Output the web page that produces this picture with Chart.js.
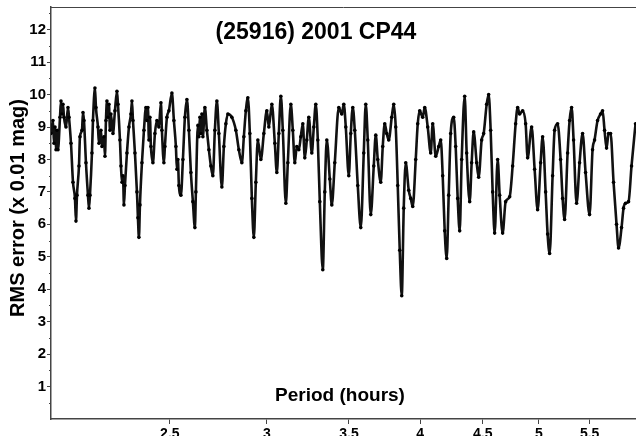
<!DOCTYPE html>
<html>
<head>
<meta charset="utf-8">
<title>(25916) 2001 CP44</title>
<script src="https://cdn.jsdelivr.net/npm/chart.js@4.4.1/dist/chart.umd.min.js"></script>
<style>
  html, body { margin: 0; padding: 0; background: #fff; overflow: hidden; }
  #wrap { width: 636px; height: 436px; overflow: hidden; }
</style>
</head>
<body>
<div id="wrap"><canvas id="chart" width="636" height="450"></canvas></div>
<script>
/* ===== data ===== */
const TITLE = '(25916) 2001 CP44';
const X_TITLE = 'Period (hours)';
const Y_TITLE = 'RMS error (x 0.01 mag)';

const periodTicks = [2.5, 3, 3.5, 4, 4.5, 5, 5.5];
const rmsTicks = [1, 2, 3, 4, 5, 6, 7, 8, 9, 10, 11, 12];

// period (hours)
const periods = [
  2.000, 2.0075, 2.0113, 2.0151, 2.0189, 2.0226, 2.0264, 2.0341, 2.0379, 2.0417,
  2.0455, 2.0494, 2.0571, 2.0648, 2.0687, 2.0765, 2.0843, 2.0921, 2.0960, 2.1000,
  2.1079, 2.1118, 2.1198, 2.1238, 2.1278, 2.1357, 2.1438, 2.1478, 2.1518, 2.1599,
  2.1640, 2.1721, 2.1762, 2.1844, 2.1885, 2.1967, 2.2009, 2.2091, 2.2133, 2.2174,
  2.2216, 2.2258, 2.2300, 2.2342, 2.2384, 2.2468, 2.2552, 2.2637, 2.2680, 2.2765,
  2.2808, 2.2851, 2.2894, 2.2937, 2.2980, 2.3066, 2.3153, 2.3240, 2.3284, 2.3328,
  2.3415, 2.3503, 2.3547, 2.3591, 2.3636, 2.3725, 2.3814, 2.3903, 2.3948,
  2.3993, 2.4038, 2.4083, 2.4128, 2.4219, 2.4310, 2.4401, 2.4493, 2.4585, 2.4631,
  2.4724, 2.4770, 2.4864, 2.4957, 2.5098, 2.5192, 2.5287, 2.5335, 2.5382, 2.5430,
  2.5526, 2.5622, 2.5718, 2.5815, 2.5912, 2.6009, 2.6107, 2.6205, 2.6254, 2.6353,
  2.6403, 2.6452, 2.6502, 2.6552, 2.6601, 2.6701, 2.6802, 2.6903, 2.7004, 2.7105,
  2.7207, 2.7310, 2.7412, 2.7567, 2.7671, 2.7775, 2.7879, 2.8089, 2.8301, 2.8461,
  2.8622,
  2.8729, 2.8837, 2.8946, 2.9054, 2.9164, 2.9273, 2.9383, 2.9494, 2.9660, 2.9828,
  2.9996, 3.0109, 3.0279, 3.0450, 3.0564, 3.0679, 3.0795, 3.0910, 3.1085, 3.1202,
  3.1378, 3.1496, 3.1614, 3.1733, 3.1853, 3.1972, 3.2093, 3.2213, 3.2334, 3.2456,
  3.2639, 3.2762, 3.2885, 3.3009, 3.3133, 3.3320, 3.3445, 3.3571, 3.3761, 3.3888,
  3.4079, 3.4336,
  3.4530, 3.4660, 3.4790, 3.4987, 3.5118, 3.5250, 3.5383, 3.5582, 3.5783, 3.5985,
  3.6120, 3.6256, 3.6461, 3.6667, 3.6805, 3.6943, 3.7151, 3.7291, 3.7431, 3.7572,
  3.7713, 3.7926, 3.8069, 3.8212, 3.8356, 3.8500, 3.8645, 3.8790, 3.8936, 3.9156,
  3.9303, 3.9451, 3.9674, 3.9823, 3.9972, 4.0198, 4.0349, 4.0577, 4.0806, 4.0959,
  4.1191, 4.1424, 4.1579, 4.1735, 4.1892, 4.2050, 4.2208, 4.2366, 4.2605, 4.2765,
  4.2926, 4.3088, 4.3250, 4.3494, 4.3657, 4.3904, 4.4068, 4.4234, 4.4484, 4.4651,
  4.4903, 4.5072, 4.5327, 4.5497, 4.5668, 4.5840, 4.6012, 4.6272, 4.6446, 4.6708,
  4.6972, 4.7326, 4.7593, 4.7862, 4.8042, 4.8223, 4.8495, 4.8769, 4.8952,
  4.9320, 4.9599, 4.9879, 5.0161, 5.0350, 5.0634, 5.0824, 5.1015, 5.1303, 5.1496,
  5.1787, 5.2079, 5.2275, 5.2471, 5.2767, 5.2965, 5.3164, 5.3364, 5.3665, 5.3968,
  5.4273, 5.4579, 5.4990, 5.5300, 5.5508, 5.5822, 5.6137, 5.6348, 5.6560, 5.6772,
  5.6986, 5.7200, 5.7523, 5.7847, 5.8065, 5.8393, 5.8612, 5.8833, 5.9165, 5.9499,
  5.9947
];

// RMS error (x 0.01 mag)
const rmsError = [
  8.8, 9.2, 8.5, 9.0, 8.3, 8.9, 8.3, 9.3, 9.8, 9.4,
  9.7, 9.3, 9.0, 9.6, 9.3, 8.5, 7.3, 6.8, 6.1, 6.9,
  7.8, 8.7, 8.9, 9.45, 9.2, 7.9, 6.9, 6.5, 6.9, 8.2,
  9.2, 10.2, 9.6, 9.0, 8.5, 8.9, 8.4, 8.7, 8.1, 9.2,
  9.8, 9.3, 9.7, 8.9, 9.4, 8.8, 9.5, 10.1, 9.7, 8.6,
  7.8, 7.3, 7.5, 6.6, 7.2, 8.2, 9.0, 9.4, 9.8, 9.2,
  8.2, 7.0, 6.2, 5.6, 6.6, 7.9, 8.9, 9.6, 9.2,
  9.6, 8.6, 9.3, 8.4, 7.9, 8.8, 9.2, 9.0, 9.75, 8.9,
  7.9, 8.4, 9.3, 9.5, 10.05, 9.2, 8.4, 7.7, 8.0, 7.2,
  6.9, 8.0, 9.3, 9.85, 8.9, 7.6, 6.7, 5.9, 7.0, 9.05,
  8.7, 9.3, 8.8, 9.4, 8.7, 9.6, 8.9, 8.3, 7.8, 7.5,
  8.9, 9.8, 8.8, 7.15, 8.4, 9.1, 9.4, 9.3, 8.9, 8.3,
  7.9,
  8.7, 9.5, 9.9, 8.8, 6.8, 5.6, 7.3, 8.6, 8.0, 8.8,
  9.5, 9.0, 9.7, 8.5, 7.6, 8.8, 9.95, 8.9, 6.65, 7.9,
  9.7, 8.9, 7.9, 8.4, 8.3, 8.7, 9.1, 8.05, 8.6, 9.3,
  8.2, 9.0, 9.7, 8.6, 6.7, 4.6, 7.0, 8.6, 7.4, 6.6,
  7.9, 9.6,
  9.4, 9.7, 9.0, 7.5, 8.8, 9.6, 8.9, 7.2, 5.9, 8.2,
  9.7, 8.6, 6.3, 7.8, 8.75, 8.0, 7.3, 8.4, 9.1, 8.8,
  8.6, 9.3, 9.7, 9.0, 7.2, 5.2, 3.8, 6.5, 7.9, 7.05,
  6.8, 6.55, 8.0, 9.1, 9.5, 9.3, 9.6, 9.0, 8.2, 9.1,
  8.1, 8.4, 8.6, 7.5, 5.8, 4.95, 6.9, 8.8, 9.3, 8.4,
  6.8, 5.8, 8.0, 9.95, 8.2, 6.7, 7.9, 8.85, 7.9, 7.45,
  8.6, 8.8, 9.7, 10.0, 8.9, 7.0, 5.73, 8.0, 6.9, 5.73,
  6.7, 6.85, 7.8, 9.1, 9.6, 9.4, 9.5, 9.1, 8.05,
  9.0, 7.7, 6.45, 7.9, 8.7, 7.0, 5.7, 5.1, 7.5, 8.9,
  9.1, 8.0, 6.8, 6.15, 8.2, 9.2, 9.6, 8.6, 6.65, 7.9,
  8.8, 7.6, 6.3, 8.3, 8.6, 9.2, 9.4, 9.5, 8.9, 8.35,
  8.8, 8.8, 7.3, 6.0, 5.27, 5.9, 6.5, 6.65, 6.7, 7.8,
  9.1
];

/* ===== style ===== */
const FONT = '"Liberation Sans", Arial, sans-serif';
const AXIS_COLOR = '#444';
const PLOT_TOP = 7;
const PLOT_BOTTOM = 419;
const PLOT_LEFT = 51;

/* ===== overlay: titles + top border + minor ticks ===== */
const overlayText = {
  id: 'overlayText',
  afterDraw(chart) {
    const { ctx, chartArea: a, scales } = chart;
    ctx.save();

    // top frame line
    ctx.strokeStyle = AXIS_COLOR;
    ctx.lineWidth = 1;
    ctx.beginPath();
    ctx.moveTo(a.left, a.top + 0.5);
    ctx.lineTo(a.right, a.top + 0.5);
    ctx.stroke();

    // minor ticks on y axis
    const y = scales.y;
    ctx.beginPath();
    for (let v = 0.5; v < 12.7; v += 1) {
      const py = Math.round(y.getPixelForValue(v)) + 0.5;
      ctx.moveTo(a.left - 2, py);
      ctx.lineTo(a.left, py);
    }
    ctx.stroke();

    ctx.fillStyle = '#000';
    ctx.textAlign = 'center';
    ctx.textBaseline = 'middle';

    ctx.font = 'bold 23px ' + FONT;
    ctx.fillText(TITLE, 316, 33);

    ctx.font = 'bold 19px ' + FONT;
    ctx.fillText(X_TITLE, 340, 396);

    ctx.translate(18, 208);
    ctx.rotate(-Math.PI / 2);
    ctx.font = 'bold 20px ' + FONT;
    ctx.fillText(Y_TITLE, 0, 0);

    ctx.restore();
  }
};

/* ===== chart ===== */
const ctx = document.getElementById('chart').getContext('2d');
new Chart(ctx, {
  type: 'line',
  data: {
    datasets: [{
      data: periods.map((p, i) => ({ x: p, y: rmsError[i] })),
      borderColor: '#111',
      borderWidth: 2.6,
      pointRadius: 1.8,
      pointBackgroundColor: '#000',
      pointBorderWidth: 0,
      cubicInterpolationMode: 'monotone',
      fill: false,
    }]
  },
  options: {
    responsive: false,
    animation: false,
    layout: { autoPadding: false, padding: { top: PLOT_TOP, right: 0, left: 0, bottom: 0 } },
    plugins: {
      legend: { display: false },
      tooltip: { enabled: false },
    },
    scales: {
      x: {
        type: 'logarithmic',
        min: 2,
        max: 6,
        afterBuildTicks: scale => { scale.ticks = periodTicks.map(v => ({ value: v })); },
        afterFit: scale => {
          scale.height = 450 - PLOT_BOTTOM;
          scale.paddingRight = 0;
          scale.paddingLeft = 0;
        },
        border: { color: AXIS_COLOR, width: 1.5 },
        grid: { drawOnChartArea: false, drawTicks: true, tickLength: 5, color: AXIS_COLOR },
        ticks: {
          color: '#000',
          padding: 2,
          maxRotation: 0,
          autoSkip: false,
          font: { family: FONT, size: 14, weight: 'bold' },
          callback: v => String(v),
        }
      },
      y: {
        min: 0,
        max: 12.7,
        afterBuildTicks: scale => { scale.ticks = rmsTicks.map(v => ({ value: v })); },
        afterFit: scale => {
          scale.width = PLOT_LEFT;
          scale.paddingTop = 0;
          scale.paddingBottom = 0;
        },
        border: { color: AXIS_COLOR, width: 1.5 },
        grid: { drawOnChartArea: false, drawTicks: true, tickLength: 4, color: AXIS_COLOR },
        ticks: {
          color: '#000',
          padding: 1,
          font: { family: FONT, size: 15, weight: 'bold' },
          callback: v => String(v),
        }
      }
    }
  },
  plugins: [overlayText]
});
</script>
</body>
</html>
